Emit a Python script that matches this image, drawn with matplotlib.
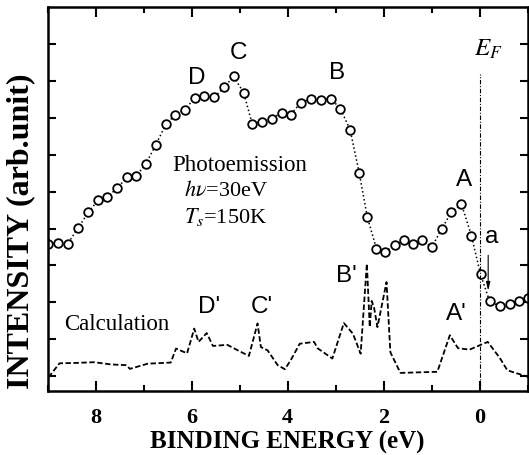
import matplotlib
matplotlib.use('Agg')
import matplotlib.pyplot as plt
from matplotlib.ticker import MultipleLocator

plt.rcParams['font.family'] = ['Liberation Serif', 'DejaVu Serif']
plt.rcParams['mathtext.fontset'] = 'stix'

# photoemission spectrum (open circles)
pes_e = [8.99, 8.80, 8.59, 8.37, 8.16, 7.96, 7.77, 7.56, 7.35, 7.17, 6.96, 6.75,
         6.54, 6.35, 6.15, 5.94, 5.74, 5.535, 5.33, 5.13, 4.92, 4.74, 4.53, 4.33,
         4.125, 3.94, 3.73, 3.52, 3.31, 3.10, 2.90, 2.70, 2.51, 2.34, 2.15, 1.97,
         1.77, 1.58, 1.38, 1.19, 1.00, 0.79, 0.59, 0.38, 0.17, -0.02, -0.21, -0.42,
         -0.63, -0.83, -1.02]
pes_i = [3.59, 3.60, 3.59, 4.02, 4.44, 4.76, 4.85, 5.09, 5.39, 5.41, 5.75, 6.27,
         6.83, 7.07, 7.22, 7.53, 7.59, 7.55, 7.82, 8.12, 7.68, 6.83, 6.89, 6.98,
         7.14, 7.08, 7.41, 7.51, 7.49, 7.52, 7.24, 6.68, 5.51, 4.31, 3.45, 3.36,
         3.56, 3.68, 3.59, 3.68, 3.49, 3.99, 4.44, 4.67, 3.81, 2.76, 2.03, 1.90,
         1.96, 2.05, 2.11]

# calculated DOS (dashed)
calc_e = [8.99, 8.76, 8.42, 8.04, 7.69, 7.375, 7.29, 6.92, 6.44, 6.33, 6.10, 5.95,
          5.86, 5.69, 5.56, 5.26, 5.04, 4.81, 4.63, 4.56, 4.42, 4.21, 4.06, 3.94,
          3.75, 3.45, 3.38, 3.07, 2.83, 2.64, 2.48, 2.35, 2.29, 2.25, 2.20, 2.13,
          1.94, 1.86, 1.65, 0.88, 0.62, 0.45, 0.21, -0.17, -0.42, -0.58, -1.02]
calc_i = [-0.03, 0.35, 0.36, 0.38, 0.32, 0.30, 0.20, 0.34, 0.37, 0.75, 0.62, 1.29,
          0.93, 1.17, 0.82, 0.85, 0.70, 0.55, 1.43, 0.79, 0.70, 0.30, 0.19, 0.43,
          0.88, 0.93, 0.76, 0.48, 1.44, 1.15, 0.61, 3.05, 1.33, 2.04, 1.86, 1.33,
          2.55, 0.65, 0.09, 0.12, 1.11, 0.76, 0.72, 0.93, 0.50, 0.16, -0.02]

fig = plt.figure(figsize=(5.29, 4.55), dpi=100)
ax = fig.add_axes([48 / 529, 64 / 455, 479.5 / 529, 384 / 455])

ax.plot(calc_e, calc_i, color='k', lw=1.3, linestyle=(0, (3.0, 1.4)))
ax.plot(pes_e, pes_i, color='k', lw=1.1, linestyle=':', marker='o', ms=6.2,
        mfc='white', mec='k', mew=1.3)

# Fermi level
ax.plot([0, 0], [-0.5, 8.19], color='k', lw=0.8, linestyle=(0, (4, 1.5, 1, 1.5)))

ax.set_xlim(9, -1)
ax.set_ylim(-0.4, 10)
ax.xaxis.set_major_locator(MultipleLocator(2))
ax.xaxis.set_minor_locator(MultipleLocator(1))
ax.set_yticks(range(0, 10))
ax.set_yticklabels([])
ax.tick_params(axis='x', which='major', direction='in', length=7, width=1.5,
               top=True, labelsize=16, pad=12)
ax.tick_params(axis='x', which='minor', direction='in', length=4.5, width=1.5, top=True)
ax.tick_params(axis='y', which='major', direction='in', length=5.5, width=1.5, right=True)
for lab in ax.get_xticklabels():
    lab.set_fontweight('bold')
for s in ax.spines.values():
    s.set_linewidth(1.8)

ax.set_xlabel('BINDING ENERGY (eV)', fontsize=18, fontweight='bold', labelpad=2)
ax.set_ylabel('INTENSITY (arb.unit)', fontsize=23, fontweight='bold')
ax.yaxis.set_label_coords(-0.027, 0.415)

sans = dict(family=['Liberation Sans', 'DejaVu Sans'], fontsize=17.5)
ax.text(5.90, 7.92, 'D', ha='center', va='baseline', **sans)
ax.text(5.02, 8.59, 'C', ha='center', va='baseline', **sans)
ax.text(2.98, 8.05, 'B', ha='center', va='baseline', **sans)
ax.text(0.33, 5.16, 'A', ha='center', va='baseline', **sans)
ax.text(-0.25, 3.62, 'a', ha='center', va='baseline', **sans)
ax.text(5.875, 1.70, "D'", ha='left', va='baseline', **sans)
ax.text(4.77, 1.70, "C'", ha='left', va='baseline', **sans)
ax.text(3.00, 2.54, "B'", ha='left', va='baseline', **sans)
ax.text(0.71, 1.51, "A'", ha='left', va='baseline', **sans)

ax.annotate('', xy=(-0.18, 2.24), xytext=(-0.18, 3.35),
            arrowprops=dict(arrowstyle='-|>,head_width=0.12,head_length=0.5',
                            lw=0.8, color='k'))

ax.text(0.125, 8.68, r'$E_F$', ha='left', va='baseline', fontsize=18)
ax.text(6.40, 5.57, 'Photoemission', ha='left', va='baseline', fontsize=16.5)
ax.text(6.17, 4.89, r'$h\nu$=30eV', ha='left', va='baseline', fontsize=16)
ax.text(6.17, 4.14, r'$T_s$=150K', ha='left', va='baseline', fontsize=16)
ax.text(8.67, 1.24, 'Calculation', ha='left', va='baseline', fontsize=16.5)

fig.savefig('out.png', dpi=100)
